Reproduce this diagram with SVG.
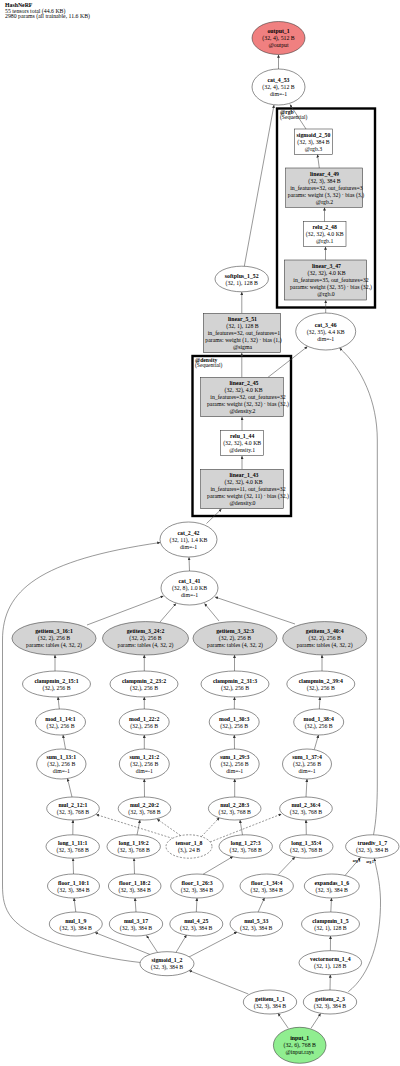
<svg xmlns="http://www.w3.org/2000/svg" width="400" height="1066" viewBox="0 0 400 1066">
<style>
text{font-family:"Liberation Serif","Times New Roman",serif;font-size:5.8px;fill:#000;text-anchor:middle;dominant-baseline:central}
.b{font-weight:bold}
.hd{text-anchor:start;dominant-baseline:alphabetic;font-size:5.8px}
.cl{text-anchor:start;font-size:5.6px}
.n{fill:#fff;stroke:#333;stroke-width:0.55}
.g{fill:#d3d3d3;stroke:#333;stroke-width:0.55}
.r{fill:#f08080;stroke:#333;stroke-width:0.55}
.gr{fill:#90ee90;stroke:#333;stroke-width:0.55}
.d{fill:#fff;stroke:#333;stroke-width:0.55;stroke-dasharray:2,1.5}
.clu{fill:none;stroke:#000;stroke-width:2.4}
#edges path{fill:none;stroke:#444;stroke-width:0.55;marker-end:url(#ah)}
#edges path.ds{stroke-dasharray:2,1.5}
.el{font-size:3.4px;font-weight:bold}
</style>
<defs>
<marker id="ah" viewBox="0 0 10 10" refX="10" refY="5" markerWidth="3" markerHeight="3" orient="auto" markerUnits="userSpaceOnUse"><path d="M0,0 L10,5 L0,10 z" fill="#333"/></marker>
</defs>
<rect width="400" height="1066" fill="#fff"/>
<g id="header">
<text class="hd b" x="5" y="7.3">HashNeRF</text>
<text class="hd" x="5" y="12.8">55 tensors total (44.6 KB)</text>
<text class="hd" x="5" y="18.3">2980 params (all trainable, 11.6 KB)</text>
</g>
<g id="cluster_rgb">
<rect class="clu" x="277" y="108.5" width="98" height="199"/>
<text class="cl b" x="280" y="111.8">@rgb</text>
<text class="cl" x="280" y="117">(Sequential)</text>
</g>
<g id="cluster_density">
<rect class="clu" x="192.5" y="356" width="98.5" height="160"/>
<text class="cl b" x="195" y="359.5">@density</text>
<text class="cl" x="195" y="364.8">(Sequential)</text>
</g>
<g id="edges">
<path d="M278.5,69 L278.5,54.8"/>
<path d="M306,129 L290,104.5"/>
<path d="M244.3,266.3 L274,105"/>
<path d="M319.3,168 L317.5,154.5"/>
<path d="M324.5,221.7 L324.5,207.5"/>
<path d="M325.5,260 L325.5,246.8"/>
<path d="M325.7,313 L325.7,300.2"/>
<path d="M241.8,313.3 L241.8,292"/>
<path d="M241.8,377.3 L241.8,353"/>
<path d="M268,377.3 L307.5,346.5"/>
<path d="M373.5,834.8 C376,822 377.3,805 377.3,785 L377.3,440 C377.3,402 362,368 339.5,348"/>
<path d="M242,430.7 L242,417"/>
<path d="M242,469.3 L242,456"/>
<path d="M206.5,523.5 L221.5,509"/>
<path d="M189.5,571 L189,557.3"/>
<path d="M140.5,962.5 C90,957 30,940 12,918 C4,908 2.5,898 2.5,885 L2.5,640 C2.5,590 40,560 160.2,542.5"/>
<path d="M87,625 L163.5,596"/>
<path d="M160,622 L176,603.5"/>
<path d="M219,621 L204.5,603.5"/>
<path d="M295,624 L215,597"/>
<path d="M55,671 L55,655"/>
<path d="M144.3,671 L144.3,655"/>
<path d="M234.5,671 L234.5,655"/>
<path d="M322,671 L322,655"/>
<path d="M59.3,709 L58,697"/>
<path d="M144.3,709 L144.3,697"/>
<path d="M234.3,709 L234.5,697"/>
<path d="M319.3,709 L320,697"/>
<path d="M65.5,749 L63,735"/>
<path d="M144.3,749 L144.3,735"/>
<path d="M234.5,749 L234.3,735"/>
<path d="M314.3,749.5 L318.5,735"/>
<path d="M72,797 L67.5,778.5"/>
<path d="M144.5,797 L144.3,779"/>
<path d="M234.7,797 L234.7,779"/>
<path d="M306,797 L307,779"/>
<path d="M72.8,834.8 L73,820"/>
<path d="M137,835 L140,820"/>
<path d="M242.5,835 L240,820"/>
<path d="M306.3,834.8 L306,820"/>
<path class="ds" d="M173,838.5 L96,814.5"/>
<path class="ds" d="M180.5,835.5 L157,819"/>
<path class="ds" d="M201.5,836.5 L219.5,817.5"/>
<path class="ds" d="M210,842 L281.5,814"/>
<path d="M73.5,874 L73,858.3"/>
<path d="M134.5,874 L134,858.3"/>
<path d="M203,874.3 L233,856.5"/>
<path d="M278.3,874.5 L295,857"/>
<path d="M345,875.5 L360.5,857.5"/>
<path d="M348.3,991.7 C370,975 381,940 380.5,900 C380,880 376,868 374.3,858.3"/>
<path d="M75.8,912 L74,898"/>
<path d="M136,912 L135,898"/>
<path d="M196.3,912 L197,898"/>
<path d="M258,912.2 L264.5,897.8"/>
<path d="M330.8,912 L331.5,898"/>
<path d="M330.4,950.7 L330.5,936"/>
<path d="M330,990 L330.3,974.7"/>
<path d="M150,954.5 L95,932.5"/>
<path d="M157.5,952.3 L146.5,935.5"/>
<path d="M176,952.4 L186.5,935"/>
<path d="M189,957 L237,932"/>
<path d="M248.3,994 L189,970.5"/>
<path d="M288.3,1028.3 L278,1013.3"/>
<path d="M311,1028.3 L320.7,1013.5"/>
<text class="el" x="356.5" y="860.5">arg 0</text>
<text class="el" x="370" y="862">arg 1</text>
</g>
<g id="output_1"><ellipse class="r" cx="278.5" cy="38" rx="26.5" ry="16.5"/><text class="b" x="278.5" y="31">output_1</text><text x="278.5" y="38">(32, 4), 512 B</text><text x="278.5" y="45">@output</text></g>
<g id="cat_4_53"><ellipse class="n" cx="278.5" cy="87" rx="26.5" ry="18"/><text class="b" x="278.5" y="80">cat_4_53</text><text x="278.5" y="87">(32, 4), 512 B</text><text x="278.5" y="94">dim=-1</text></g>
<g id="sigmoid_2_50"><rect class="n" x="294.3" y="129" width="38.4" height="25.3"/><text class="b" x="313.5" y="134.7">sigmoid_2_50</text><text x="313.5" y="141.7">(32, 3), 384 B</text><text x="313.5" y="148.7">@rgb.3</text></g>
<g id="linear_4_49"><rect class="g" x="285.7" y="168" width="77" height="39.3"/><text class="b" x="324.5" y="173.7">linear_4_49</text><text x="324.5" y="180.7">(32, 3), 384 B</text><text x="326.5" y="187.7">in_features=32, out_features=3</text><text x="326" y="194.7">params: weight (3, 32) · bias (3,)</text><text x="324.5" y="201.7">@rgb.2</text></g>
<g id="relu_2_48"><rect class="n" x="303.3" y="221.7" width="42.7" height="25"/><text class="b" x="324.7" y="227.2">relu_2_48</text><text x="324.7" y="234.2">(32, 32), 4.0 KB</text><text x="324.7" y="241.2">@rgb.1</text></g>
<g id="linear_3_47"><rect class="g" x="284.3" y="260" width="82.4" height="40"/><text class="b" x="326.5" y="266">linear_3_47</text><text x="326.5" y="273">(32, 32), 4.0 KB</text><text x="331" y="280">in_features=35, out_features=32</text><text x="331" y="287">params: weight (32, 35) · bias (32,)</text><text x="326" y="294">@rgb.0</text></g>
<g id="cat_3_46"><ellipse class="n" cx="325.7" cy="331.5" rx="30" ry="18.5"/><text class="b" x="325.7" y="324.5">cat_3_46</text><text x="325.7" y="331.5">(32, 35), 4.4 KB</text><text x="325.7" y="338.5">dim=-1</text></g>
<g id="softplus_1_52"><ellipse class="n" cx="241.7" cy="279" rx="26.7" ry="12.8"/><text class="b" x="241.7" y="275.5">softplus_1_52</text><text x="241.7" y="282.5">(32, 1), 128 B</text></g>
<g id="linear_5_51"><rect class="g" x="203.3" y="313.3" width="77.4" height="39.4"/><text class="b" x="242.5" y="319">linear_5_51</text><text x="242.5" y="326">(32, 1), 128 B</text><text x="244" y="333">in_features=32, out_features=1</text><text x="243.5" y="340">params: weight (1, 32) · bias (1,)</text><text x="242.5" y="347">@sigma</text></g>
<g id="linear_2_45"><rect class="g" x="200.7" y="377.3" width="82.6" height="39.4"/><text class="b" x="244" y="383">linear_2_45</text><text x="243.5" y="390">(32, 32), 4.0 KB</text><text x="248" y="397">in_features=32, out_features=32</text><text x="248" y="404">params: weight (32, 32) · bias (32,)</text><text x="242.5" y="411">@density.2</text></g>
<g id="relu_1_44"><rect class="n" x="220.7" y="430.7" width="42.6" height="25"/><text class="b" x="242.2" y="436.2">relu_1_44</text><text x="242.2" y="443.2">(32, 32), 4.0 KB</text><text x="242.2" y="450.2">@density.1</text></g>
<g id="linear_1_43"><rect class="g" x="200.7" y="469.3" width="82.6" height="39.4"/><text class="b" x="244" y="475">linear_1_43</text><text x="243.5" y="482">(32, 32), 4.0 KB</text><text x="248" y="489">in_features=11, out_features=32</text><text x="248" y="496">params: weight (32, 11) · bias (32,)</text><text x="242.5" y="503">@density.0</text></g>
<g id="cat_2_42"><ellipse class="n" cx="188.5" cy="539.5" rx="28.5" ry="17.5"/><text class="b" x="188.5" y="532.5">cat_2_42</text><text x="188.5" y="539.5">(32, 11), 1.4 KB</text><text x="188.5" y="546.5">dim=-1</text></g>
<g id="cat_1_41"><ellipse class="n" cx="189.5" cy="588" rx="28.5" ry="17"/><text class="b" x="189.5" y="581">cat_1_41</text><text x="189.5" y="588">(32, 8), 1.0 KB</text><text x="189.5" y="595">dim=-1</text></g>
<g id="getitem_3_16_1"><ellipse class="g" cx="54" cy="638.3" rx="42" ry="16.7"/><text class="b" x="54" y="631.3">getitem_3_16:1</text><text x="54" y="638.3">(32, 2), 256 B</text><text x="54" y="645.3">params: tables (4, 32, 2)</text></g>
<g id="getitem_3_24_2"><ellipse class="g" cx="145.5" cy="638.3" rx="43" ry="16.7"/><text class="b" x="145.5" y="631.3">getitem_3_24:2</text><text x="145.5" y="638.3">(32, 2), 256 B</text><text x="145.5" y="645.3">params: tables (4, 32, 2)</text></g>
<g id="getitem_3_32_3"><ellipse class="g" cx="235" cy="638.3" rx="42" ry="16.7"/><text class="b" x="235" y="631.3">getitem_3_32:3</text><text x="235" y="638.3">(32, 2), 256 B</text><text x="235" y="645.3">params: tables (4, 32, 2)</text></g>
<g id="getitem_3_40_4"><ellipse class="g" cx="324.7" cy="638.3" rx="42" ry="16.7"/><text class="b" x="324.7" y="631.3">getitem_3_40:4</text><text x="324.7" y="638.3">(32, 2), 256 B</text><text x="324.7" y="645.3">params: tables (4, 32, 2)</text></g>
<g id="clampmin_2_15_1"><ellipse class="n" cx="56.5" cy="684" rx="34" ry="13"/><text class="b" x="56.5" y="680.5">clampmin_2_15:1</text><text x="56.5" y="687.5">(32,), 256 B</text></g>
<g id="clampmin_2_23_2"><ellipse class="n" cx="144" cy="684" rx="34" ry="13"/><text class="b" x="144" y="680.5">clampmin_2_23:2</text><text x="144" y="687.5">(32,), 256 B</text></g>
<g id="clampmin_2_31_3"><ellipse class="n" cx="235" cy="684" rx="34" ry="13"/><text class="b" x="235" y="680.5">clampmin_2_31:3</text><text x="235" y="687.5">(32,), 256 B</text></g>
<g id="clampmin_2_39_4"><ellipse class="n" cx="320.8" cy="684" rx="34" ry="13"/><text class="b" x="320.8" y="680.5">clampmin_2_39:4</text><text x="320.8" y="687.5">(32,), 256 B</text></g>
<g id="mod_1_14_1"><ellipse class="n" cx="60.5" cy="722" rx="25" ry="13"/><text class="b" x="60.5" y="718.5">mod_1_14:1</text><text x="60.5" y="725.5">(32,), 256 B</text></g>
<g id="mod_1_22_2"><ellipse class="n" cx="144.2" cy="722" rx="25" ry="13"/><text class="b" x="144.2" y="718.5">mod_1_22:2</text><text x="144.2" y="725.5">(32,), 256 B</text></g>
<g id="mod_1_30_3"><ellipse class="n" cx="234.2" cy="722" rx="25" ry="13"/><text class="b" x="234.2" y="718.5">mod_1_30:3</text><text x="234.2" y="725.5">(32,), 256 B</text></g>
<g id="mod_1_38_4"><ellipse class="n" cx="318.7" cy="722" rx="25" ry="13"/><text class="b" x="318.7" y="718.5">mod_1_38:4</text><text x="318.7" y="725.5">(32,), 256 B</text></g>
<g id="sum_1_13_1"><ellipse class="n" cx="61.3" cy="764" rx="24.7" ry="15"/><text class="b" x="61.3" y="757">sum_1_13:1</text><text x="61.3" y="764">(32,), 256 B</text><text x="61.3" y="771">dim=-1</text></g>
<g id="sum_1_21_2"><ellipse class="n" cx="144.3" cy="764" rx="25" ry="15"/><text class="b" x="144.3" y="757">sum_1_21:2</text><text x="144.3" y="764">(32,), 256 B</text><text x="144.3" y="771">dim=-1</text></g>
<g id="sum_1_29_3"><ellipse class="n" cx="234.7" cy="764" rx="24.5" ry="15"/><text class="b" x="234.7" y="757">sum_1_29:3</text><text x="234.7" y="764">(32,), 256 B</text><text x="234.7" y="771">dim=-1</text></g>
<g id="sum_1_37_4"><ellipse class="n" cx="307" cy="764" rx="24.5" ry="15"/><text class="b" x="307" y="757">sum_1_37:4</text><text x="307" y="764">(32,), 256 B</text><text x="307" y="771">dim=-1</text></g>
<g id="mul_2_12_1"><ellipse class="n" cx="73" cy="808.5" rx="26.3" ry="11.5"/><text class="b" x="73" y="805">mul_2_12:1</text><text x="73" y="812">(32, 3), 768 B</text></g>
<g id="mul_2_20_2"><ellipse class="n" cx="144.5" cy="808.5" rx="26.3" ry="11.5"/><text class="b" x="144.5" y="805">mul_2_20:2</text><text x="144.5" y="812">(32, 3), 768 B</text></g>
<g id="mul_2_28_3"><ellipse class="n" cx="234.7" cy="808.5" rx="26.3" ry="11.5"/><text class="b" x="234.7" y="805">mul_2_28:3</text><text x="234.7" y="812">(32, 3), 768 B</text></g>
<g id="mul_2_36_4"><ellipse class="n" cx="306" cy="808.5" rx="26.3" ry="11.5"/><text class="b" x="306" y="805">mul_2_36:4</text><text x="306" y="812">(32, 3), 768 B</text></g>
<g id="long_1_11_1"><ellipse class="n" cx="72.7" cy="846.5" rx="26.7" ry="11.7"/><text class="b" x="72.7" y="843">long_1_11:1</text><text x="72.7" y="850">(32, 3), 768 B</text></g>
<g id="long_1_19_2"><ellipse class="n" cx="133.7" cy="846.5" rx="26.7" ry="11.7"/><text class="b" x="133.7" y="843">long_1_19:2</text><text x="133.7" y="850">(32, 3), 768 B</text></g>
<g id="tensor_1_8"><ellipse class="d" cx="189" cy="846.5" rx="23" ry="11.7"/><text class="b" x="189" y="843">tensor_1_8</text><text x="189" y="850">(3,), 24 B</text></g>
<g id="long_1_27_3"><ellipse class="n" cx="245.7" cy="846.5" rx="26.7" ry="11.7"/><text class="b" x="245.7" y="843">long_1_27:3</text><text x="245.7" y="850">(32, 3), 768 B</text></g>
<g id="long_1_35_4"><ellipse class="n" cx="306.3" cy="846.5" rx="26.7" ry="11.7"/><text class="b" x="306.3" y="843">long_1_35:4</text><text x="306.3" y="850">(32, 3), 768 B</text></g>
<g id="truediv_1_7"><ellipse class="n" cx="372.3" cy="846.5" rx="26.7" ry="11.7"/><text class="b" x="372.3" y="843">truediv_1_7</text><text x="372.3" y="850">(32, 3), 384 B</text></g>
<g id="floor_1_10_1"><ellipse class="n" cx="73.5" cy="886" rx="26" ry="12"/><text class="b" x="73.5" y="882.5">floor_1_10:1</text><text x="73.5" y="889.5">(32, 3), 384 B</text></g>
<g id="floor_1_18_2"><ellipse class="n" cx="134.7" cy="886" rx="26.3" ry="12"/><text class="b" x="134.7" y="882.5">floor_1_18:2</text><text x="134.7" y="889.5">(32, 3), 384 B</text></g>
<g id="floor_1_26_3"><ellipse class="n" cx="197" cy="886" rx="26.3" ry="12"/><text class="b" x="197" y="882.5">floor_1_26:3</text><text x="197" y="889.5">(32, 3), 384 B</text></g>
<g id="floor_1_34_4"><ellipse class="n" cx="266.7" cy="886" rx="26.7" ry="12"/><text class="b" x="266.7" y="882.5">floor_1_34:4</text><text x="266.7" y="889.5">(32, 3), 384 B</text></g>
<g id="expandas_1_6"><ellipse class="n" cx="331.8" cy="886" rx="27.5" ry="12"/><text class="b" x="331.8" y="882.5">expandas_1_6</text><text x="331.8" y="889.5">(32, 3), 384 B</text></g>
<g id="mul_1_9"><ellipse class="n" cx="75.8" cy="924" rx="26.5" ry="12"/><text class="b" x="75.8" y="920.5">mul_1_9</text><text x="75.8" y="927.5">(32, 3), 384 B</text></g>
<g id="mul_3_17"><ellipse class="n" cx="136" cy="924" rx="26.7" ry="12"/><text class="b" x="136" y="920.5">mul_3_17</text><text x="136" y="927.5">(32, 3), 384 B</text></g>
<g id="mul_4_25"><ellipse class="n" cx="196.3" cy="924" rx="26.5" ry="12"/><text class="b" x="196.3" y="920.5">mul_4_25</text><text x="196.3" y="927.5">(32, 3), 384 B</text></g>
<g id="mul_5_33"><ellipse class="n" cx="256.3" cy="924" rx="26.3" ry="12"/><text class="b" x="256.3" y="920.5">mul_5_33</text><text x="256.3" y="927.5">(32, 3), 384 B</text></g>
<g id="clampmin_1_5"><ellipse class="n" cx="330.5" cy="924" rx="29" ry="12"/><text class="b" x="330.5" y="920.5">clampmin_1_5</text><text x="330.5" y="927.5">(32, 1), 128 B</text></g>
<g id="sigmoid_1_2"><ellipse class="n" cx="167" cy="963.7" rx="27" ry="12"/><text class="b" x="167" y="960.2">sigmoid_1_2</text><text x="167" y="967.2">(32, 3), 384 B</text></g>
<g id="vectornorm_1_4"><ellipse class="n" cx="330.3" cy="962.7" rx="31.3" ry="12"/><text class="b" x="330.3" y="959.2">vectornorm_1_4</text><text x="330.3" y="966.2">(32, 1), 128 B</text></g>
<g id="getitem_1_1"><ellipse class="n" cx="270" cy="1002" rx="26.7" ry="12"/><text class="b" x="270" y="998.5">getitem_1_1</text><text x="270" y="1005.5">(32, 3), 384 B</text></g>
<g id="getitem_2_3"><ellipse class="n" cx="330" cy="1002" rx="26.7" ry="12"/><text class="b" x="330" y="998.5">getitem_2_3</text><text x="330" y="1005.5">(32, 3), 384 B</text></g>
<g id="input_1"><ellipse class="gr" cx="299.7" cy="1045.3" rx="26.3" ry="18"/><text class="b" x="299.7" y="1038.3">input_1</text><text x="299.7" y="1045.3">(32, 6), 768 B</text><text x="299.7" y="1052.3">@input.rays</text></g>
</svg>
